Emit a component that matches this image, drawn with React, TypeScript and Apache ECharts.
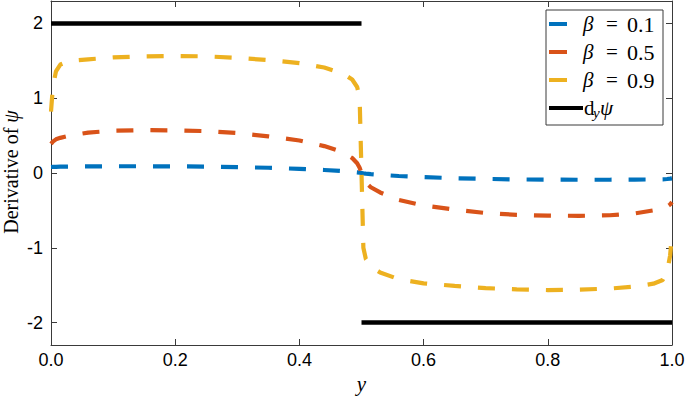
import React, { useEffect, useRef } from "react";
import * as echarts from "echarts";

// sample positions along y (x-axis)
const tValues = [0, 0.003, 0.008, 0.015, 0.03, 0.06, 0.1, 0.15, 0.2, 0.25, 0.3, 0.35, 0.4, 0.44, 0.47, 0.485, 0.493, 0.497, 0.5,
  0.503, 0.507, 0.515, 0.53, 0.56, 0.6, 0.65, 0.7, 0.75, 0.8, 0.85, 0.9, 0.94, 0.97, 0.985, 0.992, 0.997, 1];

const beta01 = [0.08, 0.081, 0.082, 0.084, 0.086, 0.088, 0.09, 0.09, 0.089, 0.086, 0.079, 0.07, 0.055, 0.04, 0.025, 0.015, 0.009, 0.005, 0,
  -0.005, -0.009, -0.015, -0.025, -0.04, -0.055, -0.07, -0.079, -0.086, -0.089, -0.09, -0.09, -0.088, -0.086, -0.084, -0.08, -0.076, -0.072];

const beta05 = [0.39, 0.42, 0.45, 0.47, 0.5, 0.54, 0.565, 0.573, 0.57, 0.56, 0.535, 0.49, 0.435, 0.36, 0.28, 0.2, 0.13, 0.07, 0,
  -0.07, -0.13, -0.19, -0.26, -0.36, -0.435, -0.49, -0.535, -0.56, -0.57, -0.573, -0.565, -0.54, -0.5, -0.47, -0.45, -0.42, -0.39];

const beta09 = [0.82, 1.15, 1.36, 1.45, 1.5, 1.52, 1.545, 1.56, 1.565, 1.56, 1.54, 1.51, 1.47, 1.41, 1.33, 1.25, 1.15, 1.0, 0,
  -1.0, -1.15, -1.25, -1.33, -1.42, -1.475, -1.51, -1.54, -1.555, -1.565, -1.56, -1.545, -1.52, -1.48, -1.43, -1.33, -1.1, -0.82];

const dyX = [0, 0.5, 0.5, 0.5, 1];
const dyVals: (number | null)[] = [2, 2, null, -2, -2];

const legendBetas = ["0.1", "0.5", "0.9"];
const colors = ["#0072BD", "#D95319", "#EDB120", "#000000"];

const AXIS_COLOR = "#3a3a3a";
const SERIF = "Liberation Serif";

export default function App() {
  const ref = useRef<HTMLDivElement>(null);
  useEffect(() => {
    const chart = echarts.init(ref.current!, null, { renderer: "svg" });
    const dash = [17, 17];
    const mk = (vals: (number | null)[], xs: number[]) => xs.map((t, i) => [t, vals[i]]);
    const curveSeries = [beta01, beta05, beta09].map((vals, i) => ({
      type: "line",
      name: "b" + i,
      data: mk(vals, tValues),
      showSymbol: false,
      symbol: "none",
      smooth: false,
      lineStyle: { color: colors[i], width: 4.2, type: dash },
      z: 2 + i,
    }));
    const legendItems: any[] = [
      {
        type: "rect",
        shape: { x: 546, y: 10, width: 117, height: 115 },
        style: { fill: "#fff", stroke: AXIS_COLOR, lineWidth: 1 },
        z: 100,
      },
    ];
    const txt = (x: number, y: number, text: string, size: number, italic: boolean, align = "left") => ({
      type: "text",
      x,
      y,
      style: {
        text,
        verticalAlign: "middle",
        align,
        fill: "#000",
        fontFamily: SERIF,
        fontStyle: italic ? "italic" : "normal",
        fontSize: size,
      },
      z: 101,
    });
    legendBetas.forEach((b, i) => {
      const y = 24 + 28 * i;
      legendItems.push({
        type: "line",
        shape: { x1: 549, y1: y, x2: 567, y2: y },
        style: { stroke: colors[i], lineWidth: 4 },
        z: 101,
      });
      legendItems.push(txt(583, y, "β", 21, true));
      legendItems.push(txt(612, y, "=", 21, false, "center"));
      legendItems.push(txt(627, y, b, 22, false));
    });
    const yd = 24 + 28 * 3;
    legendItems.push({
      type: "line",
      shape: { x1: 549, y1: yd, x2: 583, y2: yd },
      style: { stroke: colors[3], lineWidth: 4 },
      z: 101,
    });
    legendItems.push(txt(584, yd, "d", 21, false));
    legendItems.push(txt(593, yd + 5, "y", 15, true));
    legendItems.push(txt(600, yd, "ψ", 21, true));

    // y-axis title drawn as rotated text
    legendItems.push({
      type: "text",
      x: 11,
      y: 172,
      rotation: Math.PI / 2,
      style: {
        text: "{r|Derivative of }{i|ψ}",
        align: "center",
        verticalAlign: "middle",
        fill: "#000",
        rich: {
          r: { fontFamily: SERIF, fontSize: 20, fill: "#000" },
          i: { fontFamily: SERIF, fontStyle: "italic", fontSize: 20, fill: "#000" },
        },
      },
      z: 50,
    });

    const tickStyle = { show: true, inside: true, length: 6, lineStyle: { color: AXIS_COLOR, width: 1 } };
    const lineStyleAxis = { show: true, onZero: false, lineStyle: { color: AXIS_COLOR, width: 1 } };
    const intLabel = (v: number) => (Math.abs(v - Math.round(v)) < 1e-6 ? String(Math.round(v)) : "");

    chart.setOption({
      animation: false,
      backgroundColor: "#fff",
      grid: { left: 51, right: 13, top: 1, bottom: 56, containLabel: false, outerBoundsMode: "none" },
      xAxis: [
        {
          type: "value",
          min: 0,
          max: 1,
          interval: 0.2,
          position: "bottom",
          axisLine: lineStyleAxis,
          axisTick: tickStyle,
          splitLine: { show: false },
          axisLabel: {
            formatter: (v: number) => v.toFixed(1),
            fontFamily: "Liberation Sans",
            fontSize: 18,
            color: "#000",
            margin: 6,
          },
          name: "y",
          nameLocation: "middle",
          nameGap: 28,
          nameTextStyle: { fontFamily: SERIF, fontStyle: "italic", fontSize: 21, color: "#000" },
        },
        {
          type: "value",
          min: 0,
          max: 1,
          interval: 0.2,
          position: "top",
          axisLine: lineStyleAxis,
          axisTick: tickStyle,
          splitLine: { show: false },
          axisLabel: { show: false },
        },
      ],
      yAxis: [
        {
          type: "value",
          min: -2.3,
          max: 2.3,
          splitNumber: 5,
          position: "left",
          axisLine: lineStyleAxis,
          axisTick: tickStyle,
          splitLine: { show: false },
          axisLabel: {
            formatter: intLabel,
            fontFamily: "Liberation Sans",
            fontSize: 18,
            color: "#000",
            margin: 8,
          },
        },
        {
          type: "value",
          min: -2.3,
          max: 2.3,
          splitNumber: 5,
          position: "right",
          axisLine: lineStyleAxis,
          axisTick: tickStyle,
          splitLine: { show: false },
          axisLabel: { show: false },
        },
      ],
      series: [
        ...curveSeries,
        {
          type: "line",
          name: "dy",
          data: mk(dyVals, dyX),
          showSymbol: false,
          symbol: "none",
          connectNulls: false,
          lineStyle: { color: colors[3], width: 4.5, type: "solid" },
          z: 6,
        },
      ],
      graphic: legendItems,
    });
    return () => chart.dispose();
  }, []);
  return <div ref={ref} style={{ position: "fixed", left: 0, top: 0, width: 685, height: 401 }} />;
}
